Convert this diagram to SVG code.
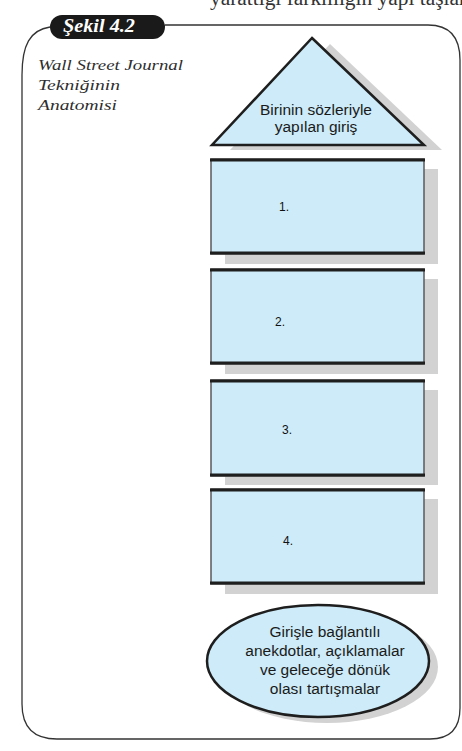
<svg xmlns="http://www.w3.org/2000/svg" width="462" height="751" viewBox="0 0 462 751">
<style>
.shadow{fill:#d2d2d2;stroke:none}
.side{stroke:#5a5a5a;stroke-width:1.5;fill:#cdebf8}
.edge{stroke:#1e1e1e;stroke-width:3;fill:none}
.lbl{font-family:"Liberation Sans",Arial,sans-serif;font-size:15.5px;fill:#1a1a1a;text-anchor:middle}
.num{font-family:"Liberation Sans",Arial,sans-serif;font-size:12px;fill:#111}
.cap{font-family:"Liberation Serif","Times New Roman",serif;font-style:italic;font-size:15.5px;fill:#2e2e2e}
</style>
<rect width="462" height="751" fill="#ffffff"/>
<text x="210" y="5" font-family="'Liberation Serif','Times New Roman',serif" font-size="20" fill="#333" textLength="262" lengthAdjust="spacingAndGlyphs">yarattığı farklılığın yapı taşları</text>
<g id="frame">
<path d="M165 25 H428 Q460 25 460 60 V708 Q460 739 430 739 H57 Q22 739 22 704 V75 C22 45 30 30 50 27" fill="none" stroke="#333" stroke-width="1.3"/>
<rect x="50" y="15" width="115" height="24" rx="12" fill="#1a1a1a"/>
<text x="63" y="32" font-family="'Liberation Serif','Times New Roman',serif" font-style="italic" font-weight="bold" font-size="18" fill="#fff" textLength="72" lengthAdjust="spacingAndGlyphs">Şekil 4.2</text>
</g>
<g id="caption">
<text class="cap" x="38" y="70" textLength="145" lengthAdjust="spacingAndGlyphs">Wall Street Journal</text>
<text class="cap" x="38" y="90" textLength="82" lengthAdjust="spacingAndGlyphs">Tekniğinin</text>
<text class="cap" x="38" y="110" textLength="79" lengthAdjust="spacingAndGlyphs">Anatomisi</text>
</g>
<g id="connectors"></g>
<g id="intro">
<polygon class="shadow" points="330,44 442,150 230,150"/>
<polygon points="312,38 424,145 212,145" fill="#cdebf8" stroke="#1e1e1e" stroke-width="2.5" stroke-linejoin="miter"/>
<text class="lbl" x="316" y="115">Birinin sözleriyle</text>
<text class="lbl" x="316" y="132">yapılan giriş</text>
</g>
<g id="box1">
<rect class="shadow" x="225" y="169" width="213" height="95"/>
<rect class="side" x="211" y="159" width="213" height="95"/>
<line class="edge" x1="210" y1="160" x2="425" y2="160"/>
<line class="edge" x1="210" y1="253" x2="425" y2="253"/>
<text class="num" x="279" y="211">1.</text>
</g>
<g id="box2">
<rect class="shadow" x="225" y="279" width="213" height="95"/>
<rect class="side" x="211" y="269" width="213" height="95"/>
<line class="edge" x1="210" y1="270" x2="425" y2="270"/>
<line class="edge" x1="210" y1="363" x2="425" y2="363"/>
<text class="num" x="275" y="326">2.</text>
</g>
<g id="box3">
<rect class="shadow" x="225" y="390" width="213" height="95"/>
<rect class="side" x="211" y="380" width="213" height="96"/>
<line class="edge" x1="210" y1="381" x2="425" y2="381"/>
<line class="edge" x1="210" y1="475" x2="425" y2="475"/>
<text class="num" x="282" y="434">3.</text>
</g>
<g id="box4">
<rect class="shadow" x="225" y="499" width="213" height="95"/>
<rect class="side" x="211" y="489" width="213" height="95"/>
<line class="edge" x1="210" y1="490" x2="425" y2="490"/>
<line class="edge" x1="210" y1="583" x2="425" y2="583"/>
<text class="num" x="283" y="545">4.</text>
</g>
<g id="conclusion">
<ellipse class="shadow" cx="327" cy="667" rx="111" ry="56"/>
<ellipse cx="318" cy="661" rx="111" ry="56" fill="#cdebf8" stroke="#1e1e1e" stroke-width="2.5"/>
<text class="lbl" x="325" y="637">Girişle bağlantılı</text>
<text class="lbl" x="325" y="656">anekdotlar, açıklamalar</text>
<text class="lbl" x="325" y="675">ve geleceğe dönük</text>
<text class="lbl" x="325" y="694">olası tartışmalar</text>
</g>
</svg>
